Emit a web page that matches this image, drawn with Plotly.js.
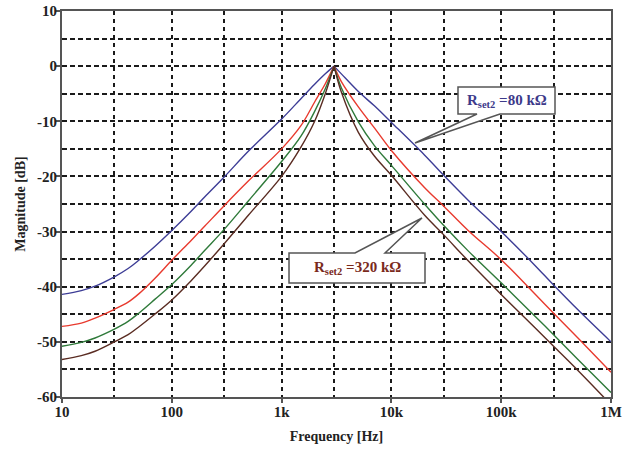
<!DOCTYPE html>
<html>
<head>
<meta charset="utf-8">
<script src="https://cdn.plot.ly/plotly-3.0.1.min.js"></script>
<style>html,body{margin:0;padding:0;background:#fff;}#chart{width:624px;height:453px;}</style>
</head>
<body>
<div id="chart"></div>
<script>
// Frequency points (Hz)
var freqs = [10, 15, 20, 30, 40, 50, 70, 100, 150, 200, 300, 500, 1000, 1500, 2000, 2500, 3000, 3500, 5000, 7000, 10000, 20000, 30000, 50000, 100000, 200000, 300000, 500000, 1000000];
// Magnitude [dB] series
var magBlue  = [-41.4, -40.7, -39.9, -38.2, -36.7, -35.2, -32.7, -29.8, -26.3, -23.7, -20.1, -15.4, -9.6, -5.9, -3.3, -1.4, 0, -1.4, -4.6, -7.2, -10.2, -16.1, -19.8, -24.3, -30.0, -36.0, -39.7, -44.2, -50.0];
var magRed   = [-47.2, -46.6, -45.7, -44.1, -42.8, -41.3, -38.5, -35.2, -31.6, -29.0, -25.3, -20.8, -15.0, -10.8, -6.5, -3.2, 0, -2.8, -7.4, -11.2, -15.3, -22.0, -25.4, -29.8, -35.1, -41.2, -44.8, -49.3, -55.5];
var magGreen = [-50.8, -50.1, -49.3, -47.7, -46.3, -44.8, -42.3, -39.6, -36.1, -33.4, -29.6, -24.4, -17.3, -12.7, -8.2, -4.1, 0, -3.9, -10.1, -14.4, -18.0, -25.0, -28.9, -33.5, -39.3, -45.2, -48.7, -53.2, -59.2];
var magBrown = [-53.2, -52.5, -51.7, -50.0, -48.7, -47.3, -45.0, -42.4, -38.9, -36.2, -32.2, -27.0, -20.0, -14.7, -10.0, -5.0, 0, -4.7, -12.0, -16.3, -19.8, -27.0, -30.6, -35.3, -41.4, -47.3, -50.8, -55.2, -61.4];
var peakIndex = 16; // 3 kHz, where all curves meet at 0 dB

// grid positions / labels
var xGridVals = [10, 30, 100, 300, 1000, 3000, 10000, 30000, 100000, 300000, 1000000];
var xGridText = ['10', '', '100', '', '1k', '', '10k', '', '100k', '', '1M'];
var xTickMarks = [10, 100, 1000, 10000, 100000, 1000000];
var yGridVals = [10, 5, 0, -5, -10, -15, -20, -25, -30, -35, -40, -45, -50, -55, -60];
var yGridText = ['10', '', '0', '', '-10', '', '-20', '', '-30', '', '-40', '', '-50', '', '-60'];
var yTickMarks = [10, 0, -10, -20, -30, -40, -50, -60];

var labelTop = 'R<sub>set2</sub> =80 kΩ';
var labelBottom = 'R<sub>set2</sub> =320 kΩ';

var serif = 'Liberation Serif, Times New Roman, serif';

var data = [];
function addSeries(y, color) {
  // two smooth branches meeting at the sharp resonance peak
  [[0, peakIndex + 1], [peakIndex, freqs.length]].forEach(function(r) {
    data.push({x: freqs.slice(r[0], r[1]), y: y.slice(r[0], r[1]), type: 'scatter', mode: 'lines',
      line: {color: color, width: 1.4, shape: 'spline', smoothing: 1}, hoverinfo: 'skip'});
  });
}
addSeries(magBlue, '#3d3d96');
addSeries(magRed, '#e83a2e');
addSeries(magGreen, '#2f7a3a');
addSeries(magBrown, '#5a2c22');

// helper: pixel -> paper coords (plot area x 62..611, y 11..397)
function px(x) { return (x - 62) / 549; }
function py(y) { return (397 - y) / 386; }
function pathFrom(pts) {
  return 'M' + pts.map(function(p){ return px(p[0]).toFixed(4) + ',' + py(p[1]).toFixed(4); }).join(' L') + ' Z';
}

var tickFont = {family: serif, size: 15, weight: 'bold', color: '#222'};
var titleFont = {family: serif, size: 14, weight: 'bold', color: '#222'};

var layout = {
  width: 624, height: 453,
  margin: {l: 62, r: 13, t: 11, b: 56},
  paper_bgcolor: '#fff', plot_bgcolor: '#fff',
  showlegend: false,
  font: {family: serif, color: '#222', size: 14},
  xaxis: {
    type: 'log', range: [1, 6],
    tickmode: 'array', tickvals: xGridVals, ticktext: xGridText,
    tickfont: tickFont, ticks: '',
    showgrid: true, gridcolor: '#1a1a1a', gridwidth: 2, griddash: '4px,4px',
    minor: {tickvals: xTickMarks, ticks: 'outside', ticklen: 4, tickcolor: '#555', tickwidth: 1.5, showgrid: false},
    showline: true, linecolor: '#555', linewidth: 2, mirror: true,
    zeroline: false,
    title: {text: 'Frequency [Hz]', font: titleFont, standoff: 12}
  },
  yaxis: {
    range: [-60, 10],
    tickmode: 'array', tickvals: yGridVals, ticktext: yGridText,
    tickfont: tickFont, ticks: '',
    showgrid: true, gridcolor: '#1a1a1a', gridwidth: 2, griddash: '5px,3px',
    minor: {tickvals: yTickMarks, ticks: 'outside', ticklen: 5, tickcolor: '#555', tickwidth: 1.5, showgrid: false},
    showline: true, linecolor: '#555', linewidth: 2, mirror: true,
    zeroline: false,
    title: {text: 'Magnitude [dB]', font: titleFont, standoff: 8}
  },
  shapes: [
    {type: 'path', xref: 'paper', yref: 'paper', layer: 'above',
     path: pathFrom([[458,87],[555,87],[555,114],[500,114],[415,143],[477,114],[458,114]]),
     fillcolor: '#ffffff', line: {color: '#555', width: 1.5}},
    {type: 'path', xref: 'paper', yref: 'paper', layer: 'above',
     path: pathFrom([[289,253],[355,253],[422,218],[385,253],[425,253],[425,283],[289,283]]),
     fillcolor: '#ffffff', line: {color: '#555', width: 1.5}}
  ],
  annotations: [
    {xref: 'paper', yref: 'paper', x: px(506.5), y: py(100.5), text: labelTop, showarrow: false,
     font: {family: serif, size: 15, weight: 'bold', color: '#3d3a8a'}, xanchor: 'center', yanchor: 'middle'},
    {xref: 'paper', yref: 'paper', x: px(357), y: py(268), text: labelBottom, showarrow: false,
     font: {family: serif, size: 15, weight: 'bold', color: '#7a2a1c'}, xanchor: 'center', yanchor: 'middle'}
  ]
};

Plotly.newPlot('chart', data, layout, {displayModeBar: false});
</script>
</body>
</html>
